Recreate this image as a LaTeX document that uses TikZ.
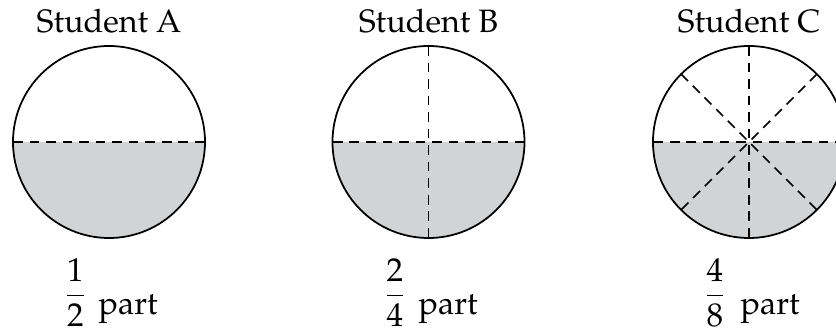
\documentclass[tikz,border=0pt]{standalone}
\usepackage[T1]{fontenc}
\usepackage{mathpazo}
\usepackage{amsmath}
\definecolor{pie}{RGB}{209,211,212}
\tikzset{
  rim/.style={line width=0.5pt},
  cut/.style={line width=0.5pt, dash pattern=on 2.8pt off 1.9pt},
  title/.style={anchor=base, font=\fontsize{9.2}{11}\selectfont},
  share/.style={inner sep=0pt, font=\fontsize{9.4}{11}\selectfont},
  word/.style={anchor=base west, inner sep=0pt, font=\fontsize{9.2}{11}\selectfont},
}
\begin{document}
\begin{tikzpicture}
        \clip (0,0) rectangle (8.36,3.29);

        % Centres of the three circles
        \coordinate (ca) at (1.09, 1.87);
        \coordinate (cb) at (4.285, 1.87);
        \coordinate (cc) at (7.49, 1.87);

        % Student A (halves)
        \fill[pie] (ca) ++(-0.96,0) arc[start angle=180, end angle=360, radius=0.96] -- cycle;
        \draw[cut] (ca) ++(-0.96,0) -- ++(1.92,0);
        \draw[rim] (ca) circle (0.96);
        \node[title] (ta) at (1.09, 2.96) {Student A};
        \node[share] (fa) at (0.755, 0.365) {$\dfrac{1}{2}$};
        \node[word] (pa) at (0.98, 0.14) {part};

        % Student B (quarters)
        \fill[pie] (cb) ++(-0.96,0) arc[start angle=180, end angle=360, radius=0.96] -- cycle;
        \foreach \a in {0,90}
            \draw[cut] (cb) ++(\a:0.96) -- ++(\a+180:1.92);
        \draw[rim] (cb) circle (0.96);
        \node[title] (tb) at (4.285, 2.96) {Student B};
        \node[share] (fb) at (3.95, 0.365) {$\dfrac{2}{4}$};
        \node[word] (pb) at (4.18, 0.14) {part};

        % Student C (eighths)
        \fill[pie] (cc) ++(-0.96,0) arc[start angle=180, end angle=360, radius=0.96] -- cycle;
        \foreach \a in {0,45,90,135}
            \draw[cut] (cc) ++(\a:0.96) -- ++(\a+180:1.92);
        \draw[rim] (cc) circle (0.96);
        \node[title] (tc) at (7.49, 2.96) {Student C};
        \node[share] (fc) at (7.15, 0.365) {$\dfrac{4}{8}$};
        \node[word] (pc) at (7.40, 0.14) {part};

\end{tikzpicture}
\end{document}
